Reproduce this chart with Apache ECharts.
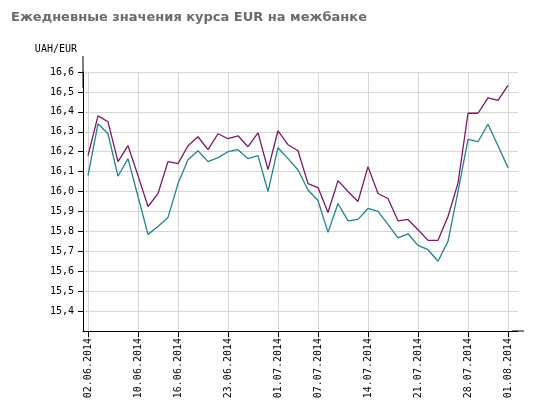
<!DOCTYPE html>
<html>
<head>
<meta charset="utf-8">
<script src="https://cdn.jsdelivr.net/npm/echarts@6/dist/echarts.min.js"></script>
<style>
html,body{margin:0;padding:0;background:#fff;}
#chart{width:536px;height:410px;}
</style>
</head>
<body>
<div id="chart"></div>
<script>
// Business days (09.06 and 30.06 were holidays)
const dates = ['02.06.2014','03.06.2014','04.06.2014','05.06.2014','06.06.2014','10.06.2014','11.06.2014','12.06.2014','13.06.2014','16.06.2014',
  '17.06.2014','18.06.2014','19.06.2014','20.06.2014','23.06.2014','24.06.2014','25.06.2014','26.06.2014','27.06.2014','01.07.2014',
  '02.07.2014','03.07.2014','04.07.2014','07.07.2014','08.07.2014','09.07.2014','10.07.2014','11.07.2014','14.07.2014','15.07.2014',
  '16.07.2014','17.07.2014','18.07.2014','21.07.2014','22.07.2014','23.07.2014','24.07.2014','25.07.2014','28.07.2014','29.07.2014',
  '30.07.2014','31.07.2014','01.08.2014'];
const xTickLabels = ['02.06.2014','10.06.2014','16.06.2014','23.06.2014','01.07.2014','07.07.2014','14.07.2014','21.07.2014','28.07.2014','01.08.2014'];
const yTickValues = [15.4,15.5,15.6,15.7,15.8,15.9,16.0,16.1,16.2,16.3,16.4,16.5,16.6];
const upperSeries = [16.18,16.38,16.35,16.15,16.23,16.08,15.925,15.99,16.15,16.14,
  16.23,16.275,16.21,16.29,16.265,16.28,16.225,16.295,16.11,16.305,
  16.235,16.205,16.04,16.02,15.895,16.055,16.0,15.95,16.125,15.99,
  15.965,15.853,15.86,15.808,15.755,15.755,15.875,16.042,16.393,16.393,
  16.47,16.458,16.533];
const lowerSeries = [16.08,16.34,16.29,16.077,16.165,15.975,15.785,15.825,15.87,16.04,
  16.16,16.205,16.15,16.17,16.2,16.21,16.165,16.18,16.0,16.22,
  16.165,16.108,16.008,15.955,15.795,15.94,15.853,15.86,15.915,15.9,
  15.835,15.767,15.788,15.73,15.708,15.65,15.75,16.0,16.262,16.25,
  16.338,16.23,16.12];

const labelIdx = xTickLabels.map(l => dates.indexOf(l));
const toPairs = arr => arr.map((v, i) => [i, v]);
const MONO = '"DejaVu Sans Mono", monospace';
const GRID = '#d6d6d6';

const chart = echarts.init(document.getElementById('chart'), null, {renderer: 'canvas'});
chart.setOption({
  animation: false,
  backgroundColor: '#fff',
  title: {
    text: 'Ежедневные значения курса EUR на межбанке',
    left: 6, top: 6,
    textStyle: {fontFamily: '"DejaVu Sans", sans-serif', fontSize: 13, fontWeight: 'bold', color: '#6b6b6b'}
  },
  grid: {left: 83, right: 18, top: 72, bottom: 79},
  xAxis: {
    type: 'value', min: -0.5, max: 43,
    axisLine: {show: true, onZero: false, lineStyle: {color: '#000', width: 1}, symbol: ['none', 'rect'], symbolSize: [1, 12]},
    axisTick: {show: true, customValues: labelIdx, length: 6, lineStyle: {color: '#000'}},
    axisLabel: {customValues: labelIdx, formatter: v => dates[Math.round(v)] || '', rotate: 90, margin: 7,
      fontFamily: MONO, fontSize: 10, color: '#000'},
    splitLine: {show: true, lineStyle: {color: GRID, width: 1}}
  },
  yAxis: {
    type: 'value', min: 15.3, max: 16.6, interval: 0.1,
    name: 'UAH/EUR', nameLocation: 'end', nameGap: 18,
    nameTextStyle: {fontFamily: MONO, fontSize: 10, color: '#000', align: 'right', padding: [0, 6, 0, 0]},
    axisLine: {show: true, onZero: false, lineStyle: {color: '#000', width: 1}, symbol: ['none', 'rect'], symbolSize: [1, 32]},
    axisTick: {show: true, customValues: yTickValues, length: 5, lineStyle: {color: '#000'}},
    axisLabel: {customValues: yTickValues, formatter: v => v.toFixed(1).replace('.', ','), margin: 9,
      fontFamily: MONO, fontSize: 10, color: '#000'},
    splitLine: {show: true, lineStyle: {color: GRID, width: 1}}
  },
  series: [
    {type: 'line', data: toPairs(upperSeries), showSymbol: false, lineStyle: {color: '#7b1766', width: 1.3}, itemStyle: {color: '#7b1766'}},
    {type: 'line', data: toPairs(lowerSeries), showSymbol: false, lineStyle: {color: '#22838f', width: 1.3}, itemStyle: {color: '#22838f'}}
  ]
});
</script>
</body>
</html>
